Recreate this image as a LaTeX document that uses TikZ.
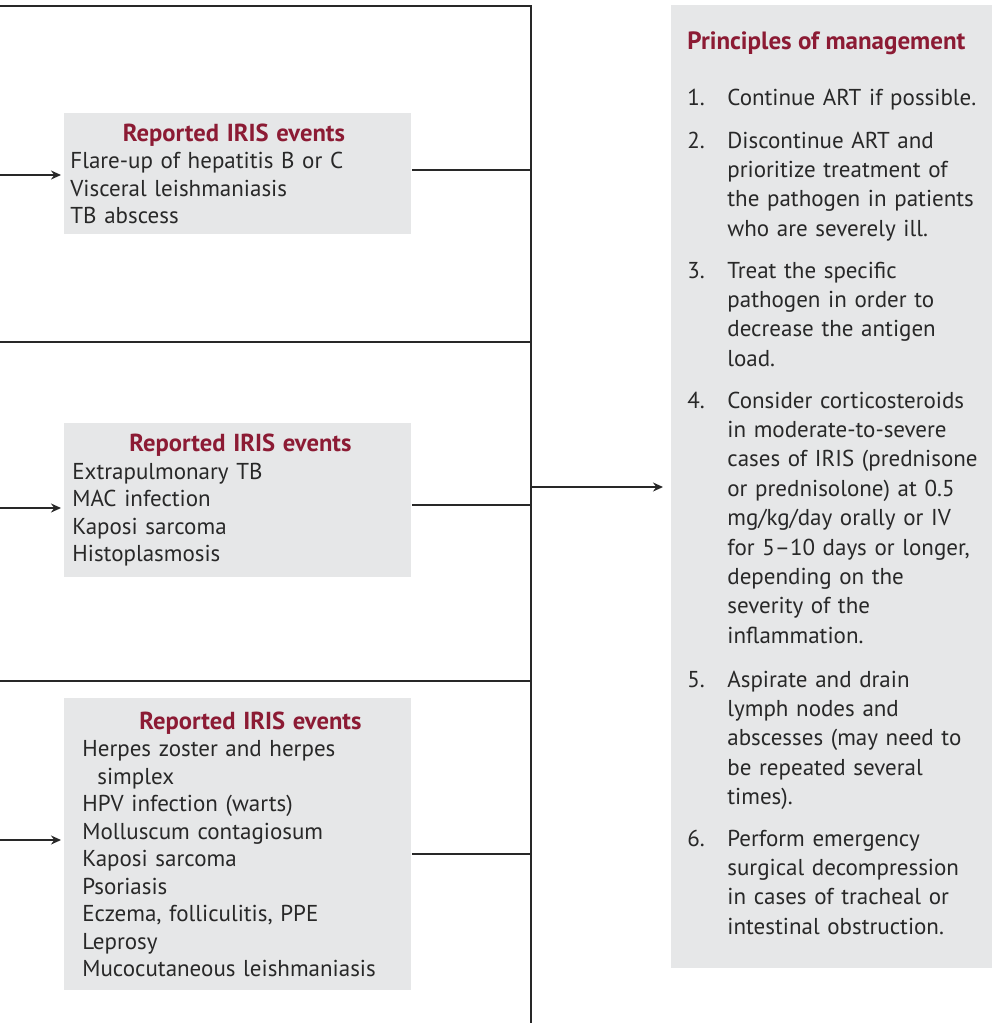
\documentclass[tikz,border=0pt]{standalone}
\usepackage{fontspec}
\setmainfont{PT Sans}
\usepackage{tikz}
\usetikzlibrary{arrows.meta,positioning}
\usepackage{xcolor}
\definecolor{irisred}{RGB}{140,27,52}
\definecolor{boxgray}{RGB}{230,231,232}
\definecolor{inkgray}{RGB}{40,40,40}
\newcommand{\evhead}[1][0pt]{\makebox[\linewidth]{\hspace*{#1}\textcolor{irisred}{\fontsize{12.3}{13.75}\selectfont\bfseries Reported IRIS events}}\\}

\begin{document}
\begin{tikzpicture}[
    x=0.5pt, y=-0.5pt,
    every node/.style={font=\fontsize{11.5}{13.75}\selectfont, text=inkgray},
    evbox/.style={fill=boxgray, anchor=north west, align=left, inner ysep=0pt,
      inner xsep=#1, text width=173.5pt-2*#1, minimum width=173.5pt},
    item/.style={anchor=base west, inner sep=0pt, align=left,
      font=\fontsize{11.5}{14.7}\selectfont},
    bus/.style={line width=0.75pt, inkgray},
    arr/.style={bus, -{Stealth[length=5pt, width=4.5pt]}}
  ]
  \useasboundingbox (0,0) rectangle (992,1023);

  % event boxes
  \node[evbox=3pt, minimum height=60.5pt] (ev1) at (64,113)
    {\evhead[-4pt]Flare-up of hepatitis B or C\\Visceral leishmaniasis\\TB abscess};
  \node[evbox=4pt, minimum height=77pt] (ev2) at (64,423)
    {\evhead[2.5pt]Extrapulmonary TB\\MAC infection\\Kaposi sarcoma\\Histoplasmosis};
  \node[evbox=9pt, minimum height=146pt] (ev3) at (64,698)
    {\evhead[12.5pt]Herpes zoster and herpes\\\hspace*{7.5pt}simplex\\HPV infection (warts)\\
     Molluscum contagiosum\\Kaposi sarcoma\\Psoriasis\\Eczema, folliculitis, PPE\\
     Leprosy\\Mucocutaneous leishmaniasis};

  % management panel
  \node[fill=boxgray, anchor=north west, inner sep=0pt,
    minimum width=160.5pt, minimum height=481.5pt] (mgmt) at (671,5) {};
  \node[item, text=irisred, font=\fontsize{12.5}{14.7}\selectfont\bfseries] (mgmt-title)
    at (687,49) {Principles of management};
  \foreach \yy/\txt [count=\i] in {
    105/{Continue ART if possible.},
    148/{Discontinue ART and\\prioritize treatment of\\the pathogen in patients\\who are severely ill.},
    278/{Treat the specific\\pathogen in order to\\decrease the antigen\\load.},
    408/{Consider corticosteroids\\in moderate-to-severe\\cases of IRIS (prednisone\\or prednisolone) at 0.5\\mg/kg/day orally or IV\\for 5–10 days or longer,\\depending on the\\severity of the\\inflammation.},
    687/{Aspirate and drain\\lymph nodes and\\abscesses (may need to\\be repeated several\\times).},
    846/{Perform emergency\\surgical decompression\\in cases of tracheal or\\intestinal obstruction.}
  }{
    \node[item] (num\i) at (687,\yy) {\i.};
    \node[item, text width=132pt] (item\i) at (727,\yy) {\txt};
  }

  % frame and bus
  \coordinate (top) at (531,6);
  \coordinate (bot) at (531,1023);
  \draw[bus] (0,6) -- (top) -- (bot);
  \foreach \yy in {342,681}
    \draw[bus] (0,\yy) -- (top |- 0,\yy);

  % connectors
  \foreach \b/\yin/\yout in {1/175/170, 2/508/505, 3/840/854}{
    \coordinate (in\b) at (0,\yin);
    \coordinate (out\b) at (531,\yout);
    \draw[arr, shorten >=1.5pt] (in\b) -- (in\b -| ev\b.west);
    \draw[bus] (ev\b.east |- out\b) -- (out\b);
  }
  \coordinate (hub) at (531,487);
  \draw[arr, shorten >=4pt] (hub) -- (hub -| mgmt.west);
\end{tikzpicture}
\end{document}
